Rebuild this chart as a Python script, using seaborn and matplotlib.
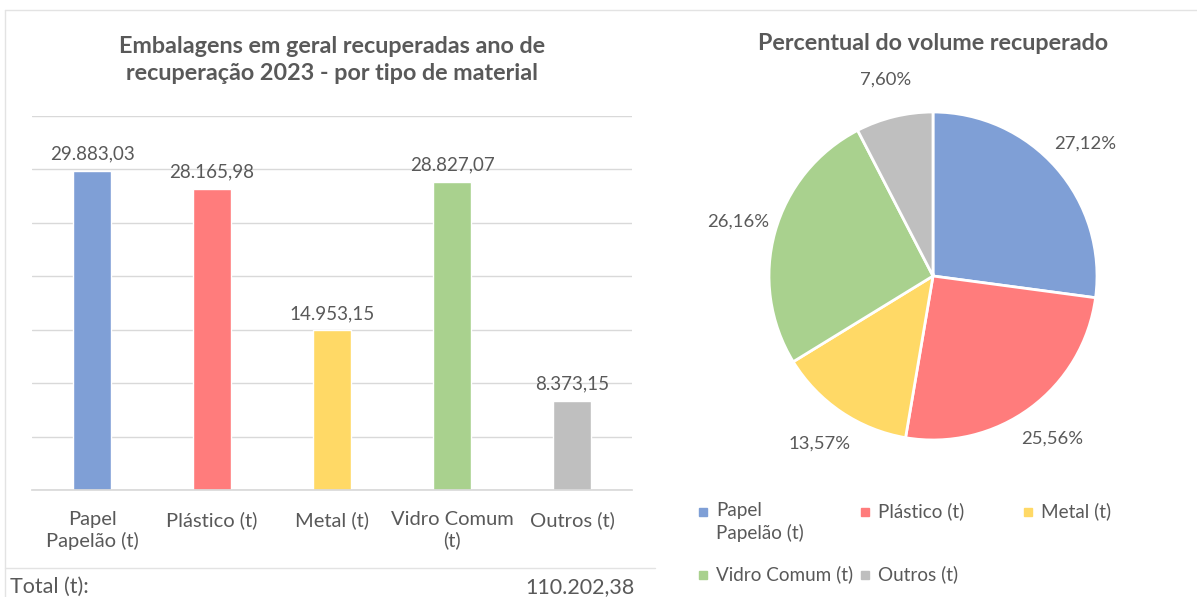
import matplotlib
matplotlib.use("Agg")
import matplotlib.pyplot as plt
import seaborn as sns
import pandas as pd
from matplotlib.lines import Line2D

# Data
categories = ["Papel\nPapelão (t)", "Plástico (t)", "Metal (t)", "Vidro Comum\n(t)", "Outros (t)"]
legend_labels = ["Papel\nPapelão (t)", "Plástico (t)", "Metal (t)", "Vidro Comum (t)", "Outros (t)"]
volumes = [29883.03, 28165.98, 14953.15, 28827.07, 8373.15]
total_label = "110.202,38"
colors = ["#7F9FD6", "#FF7C7C", "#FFD966", "#A9D18E", "#BFBFBF"]

grey = "#595959"

sns.set_theme(style="white")
plt.rcParams["font.family"] = ["Lato", "DejaVu Sans"]


def br_fmt(v):
    return f"{v:,.2f}".replace(",", "X").replace(".", ",").replace("X", ".")


df = pd.DataFrame({"material": categories, "volume": volumes})

fig = plt.figure(figsize=(11.97, 5.97), dpi=100)
W, H = 1197, 597

# Bar chart
ax = fig.add_axes([32 / W, 1 - 490 / H, 600 / W, 374 / H])
sns.barplot(data=df, x="material", y="volume", hue="material",
            palette=colors, width=0.32, legend=False, ax=ax, saturation=1)
ax.set_ylim(0, 35000)
ax.set_xlim(-0.5, 4.5)
ax.set_yticks(range(0, 35001, 5000))
ax.yaxis.grid(True, color="#D9D9D9", linewidth=1)
ax.set_axisbelow(True)
ax.tick_params(axis="y", left=False, labelleft=False)
ax.tick_params(axis="x", bottom=False, labelsize=14.5, colors=grey, pad=9)
for s in ["top", "right", "left"]:
    ax.spines[s].set_visible(False)
ax.spines["bottom"].set_color("#D9D9D9")
ax.set_xlabel("")
ax.set_ylabel("")
for lbl in ax.get_xticklabels():
    lbl.set_linespacing(1.25)
for i, v in enumerate(volumes):
    ax.annotate(br_fmt(v), (i, v), xytext=(0, 6), textcoords="offset points",
                ha="center", va="bottom", fontsize=13.5, color=grey)

fig.text(332 / W, 1 - 60 / H,
         "Embalagens em geral recuperadas ano de\nrecuperação 2023 - por tipo de material",
         ha="center", va="center", fontsize=16.8, fontweight="bold", color=grey,
         linespacing=1.4)

# Total row
fig.text(10 / W, 1 - 587 / H, "Total (t):", ha="left", va="center", fontsize=15.5, color=grey)
fig.text(635 / W, 1 - 587 / H, total_label, ha="right", va="center", fontsize=15.5, color=grey)
fig.add_artist(Line2D([5 / W, 655 / W], [1 - 568 / H, 1 - 568 / H], color="#E3E3E3", lw=1))
fig.add_artist(Line2D([5 / W, 1], [1 - 10 / H, 1 - 10 / H], color="#E3E3E3", lw=1))
fig.add_artist(Line2D([5 / W, 5 / W], [0, 1 - 10 / H], color="#E3E3E3", lw=1))

# Pie chart
pax = fig.add_axes([769 / W, 1 - 440 / H, 328 / W, 328 / H])
wedges, texts, autotexts = pax.pie(
    volumes, colors=colors, startangle=90, counterclock=False,
    autopct=lambda p: f"{p:.2f}%".replace(".", ","), pctdistance=1.23,
    wedgeprops=dict(edgecolor="white", linewidth=2))
for t in autotexts:
    t.set_color(grey)
    t.set_fontsize(13.3)
pax.set_xlim(-1, 1)
pax.set_ylim(-1, 1)
pax.set_aspect("equal")

fig.text(933 / W, 1 - 44 / H, "Percentual do volume recuperado", ha="center", va="center",
         fontsize=16.8, fontweight="bold", color=grey)

# Legend, row-wise like the reference
leg_pos = [(703, 512), (865, 512), (1028, 512), (703, 575), (865, 575)]
for (x, y), lab, c in zip(leg_pos, legend_labels, colors):
    fig.add_artist(Line2D([x / W], [1 - y / H], marker="s", markersize=6,
                          color=c, linestyle="none"))
    fig.text((x + 13) / W, 1 - (y - 10) / H, lab, ha="left", va="top",
             fontsize=13.6, color=grey, linespacing=1.35)

fig.savefig("out.png", dpi=100)
